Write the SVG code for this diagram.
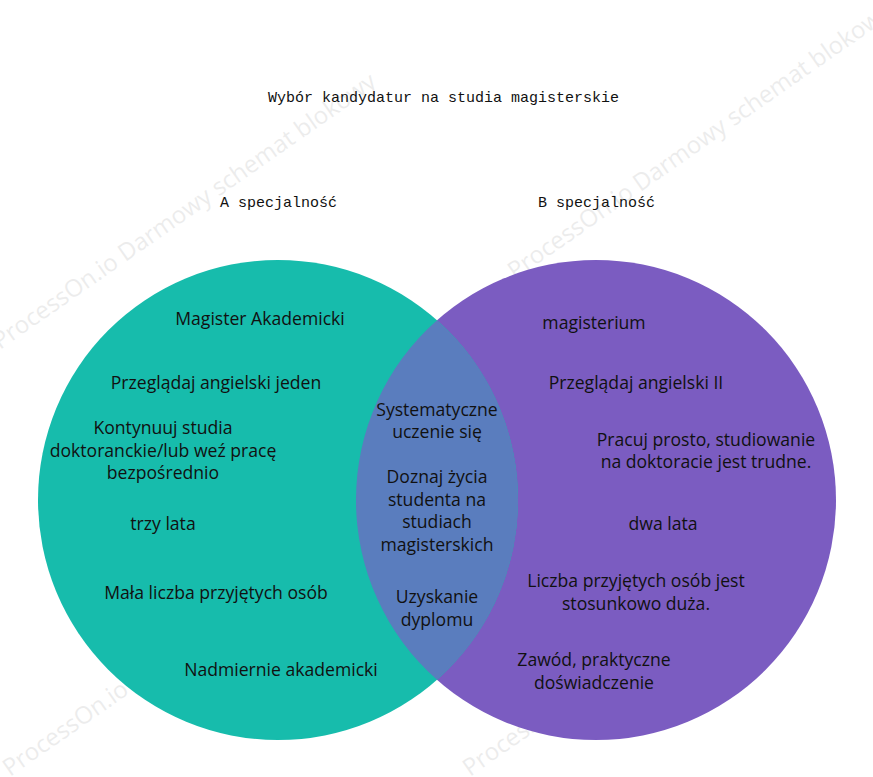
<svg xmlns="http://www.w3.org/2000/svg" width="873" height="777" viewBox="0 0 873 777">
<style>
.t{font-family:"Liberation Mono",monospace;font-size:15px;fill:#111}
.b{font-family:"Open Sans","Noto Sans",sans-serif;font-size:17.6px;fill:#111;text-anchor:middle}
.w{font-family:"Open Sans",sans-serif;font-size:24px;fill:#000;opacity:0.07}
</style>
<rect width="873" height="777" fill="#fff"/>
<g id="watermark">
<text class="w" transform="translate(0,350) rotate(-35)">ProcessOn.io Darmowy schemat blokowy</text>
<text class="w" transform="translate(515,280) rotate(-35)">ProcessOn.io Darmowy schemat blokowy</text>
<text class="w" transform="translate(10,777) rotate(-35)">ProcessOn.io</text>
<text class="w" transform="translate(470,777) rotate(-35)">ProcessOn.io</text>
</g>
<text class="t" x="268" y="102">Wybór kandydatur na studia magisterskie</text>
<text class="t" x="220" y="207">A specjalność</text>
<text class="t" x="538" y="207">B specjalność</text>
<g id="circleB"><circle cx="596" cy="500" r="240" fill="#7B5CC1"/></g>
<g id="circleA"><circle cx="278" cy="500" r="240" fill="#17BCAC"/></g>
<g id="overlap"><path d="M437,320.2 A240,240 0 0 1 437,679.8 A240,240 0 0 1 437,320.2 Z" fill="#5A7DBE"/></g>
<g id="textA">
<text class="b" x="260" y="325">Magister Akademicki</text>
<text class="b" x="216" y="389">Przeglądaj angielski jeden</text>
<text class="b" x="163" y="434">Kontynuuj studia</text>
<text class="b" x="163" y="457">doktoranckie/lub weź pracę</text>
<text class="b" x="163" y="479">bezpośrednio</text>
<text class="b" x="163" y="530">trzy lata</text>
<text class="b" x="216" y="599">Mała liczba przyjętych osób</text>
<text class="b" x="281" y="676">Nadmiernie akademicki</text>
</g>
<g id="textMid">
<text class="b" x="437" y="416">Systematyczne</text>
<text class="b" x="437" y="438">uczenie się</text>
<text class="b" x="437" y="483">Doznaj życia</text>
<text class="b" x="437" y="506">studenta na</text>
<text class="b" x="437" y="528">studiach</text>
<text class="b" x="437" y="551">magisterskich</text>
<text class="b" x="437" y="603">Uzyskanie</text>
<text class="b" x="437" y="626">dyplomu</text>
</g>
<g id="textB">
<text class="b" x="594" y="329">magisterium</text>
<text class="b" x="636" y="389">Przeglądaj angielski II</text>
<text class="b" x="706" y="446">Pracuj prosto, studiowanie</text>
<text class="b" x="706" y="468">na doktoracie jest trudne.</text>
<text class="b" x="663" y="530">dwa lata</text>
<text class="b" x="636" y="587">Liczba przyjętych osób jest</text>
<text class="b" x="636" y="610">stosunkowo duża.</text>
<text class="b" x="594" y="666">Zawód, praktyczne</text>
<text class="b" x="594" y="689">doświadczenie</text>
</g>
</svg>
